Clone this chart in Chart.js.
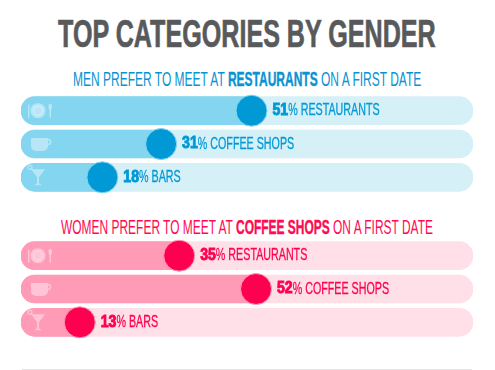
<!DOCTYPE html>
<html>
<head>
<meta charset="utf-8">
<script src="https://cdn.jsdelivr.net/npm/chart.js@4"></script>
<style>
  body { margin: 0; background: #fff; width: 495px; height: 370px; overflow: hidden; position: relative; }
  canvas { position: absolute; left: 21px; }
  .txt { position: absolute; white-space: nowrap; font-family: "Liberation Sans", sans-serif; transform-origin: 0 0; }
  #title { top: 12px; left: 58px; font-size: 39px; font-weight: bold; color: #58595b; -webkit-text-stroke: 0.7px #58595b; }
  .sub { font-size: 20px; }
  .sub b { -webkit-text-stroke: 0.4px; }
  #menHead { top: 68px; left: 73px; color: #0a93d2; }
  #womenHead { top: 216px; left: 61px; color: #ff0a54; }
  #rule { position: absolute; left: 22px; top: 369px; width: 450px; height: 1px; background: #e4e4e4; }
</style>
</head>
<body>
<div class="txt" id="title">TOP CATEGORIES BY GENDER</div>
<div class="txt sub" id="menHead">MEN PREFER TO MEET AT <b>RESTAURANTS</b> ON A FIRST DATE</div>
<canvas id="men" width="452" height="100" style="top:94px"></canvas>
<div class="txt sub" id="womenHead">WOMEN PREFER TO MEET AT <b>COFFEE SHOPS</b> ON A FIRST DATE</div>
<canvas id="women" width="452" height="100" style="top:239px"></canvas>
<div id="rule"></div>
<script>
const categories = ['RESTAURANTS', 'COFFEE SHOPS', 'BARS'];
const menValues = [51, 31, 18];
const womenValues = [35, 52, 13];
const fullTrack = [100, 100, 100];

// no condensed font installed, so squeeze the headings to their widths
function fitWidth(id, w) {
    const el = document.getElementById(id);
    el.style.transform = 'scaleX(' + (w / el.offsetWidth) + ')';
}
fitWidth('title', 378);
fitWidth('menHead', 348);
fitWidth('womenHead', 372);

function drawIcon(ctx, i, y) {
    ctx.save();
    ctx.fillStyle = 'rgba(255,255,255,0.42)';
    ctx.strokeStyle = 'rgba(255,255,255,0.42)';
    if (i == 0) {
        ctx.beginPath();
        ctx.arc(17, y, 7.5, 0, Math.PI * 2);
        ctx.fill();
        ctx.beginPath();
        ctx.arc(17, y, 4.5, 0, Math.PI * 2);
        ctx.lineWidth = 1;
        ctx.stroke();
        ctx.fillRect(7, y - 6, 1.5, 13);
        ctx.fillRect(28.5, y - 2, 1.5, 9);
        ctx.beginPath();
        ctx.ellipse(29.2, y - 4, 1.8, 3, 0, 0, Math.PI * 2);
        ctx.fill();
    } else if (i == 1) {
        ctx.beginPath();
        ctx.roundRect(10, y - 6, 17, 13, [1, 1, 5, 5]);
        ctx.fill();
        ctx.lineWidth = 1.5;
        ctx.beginPath();
        ctx.arc(27, y - 2, 2.5, -Math.PI / 2, Math.PI / 2);
        ctx.stroke();
    } else {
        ctx.beginPath();
        ctx.moveTo(10, y - 8);
        ctx.lineTo(24, y - 8);
        ctx.lineTo(18, y);
        ctx.lineTo(18, y + 6);
        ctx.lineTo(21, y + 8);
        ctx.lineTo(13, y + 8);
        ctx.lineTo(16, y + 6);
        ctx.lineTo(16, y);
        ctx.closePath();
        ctx.fill();
        ctx.lineWidth = 1.2;
        ctx.beginPath();
        ctx.arc(9, y - 10, 2, 0, Math.PI * 2);
        ctx.stroke();
    }
    ctx.restore();
}

function squeezedText(ctx, text, x, y, sx, stroke) {
    ctx.save();
    ctx.translate(x, y);
    ctx.scale(sx, 1);
    ctx.fillText(text, 0, 0);
    if (stroke) {
        ctx.lineWidth = stroke;
        ctx.strokeText(text, 0, 0);
    }
    ctx.restore();
    return ctx.measureText(text).width * sx;
}

// icons on the bars, percent labels next to the circles
const rowDecor = {
    id: 'rowDecor',
    afterDatasetsDraw(chart) {
        const ctx = chart.ctx;
        const pts = chart.getDatasetMeta(0).data;
        const values = chart.data.datasets[0].data;
        const color = chart.data.datasets[0].backgroundColor;
        pts.forEach((pt, i) => {
            drawIcon(ctx, i, pt.y);
            let x = pt.x + 21;
            ctx.fillStyle = color;
            ctx.strokeStyle = color;
            ctx.textBaseline = 'middle';
            ctx.font = 'bold 16px "Liberation Sans"';
            x += squeezedText(ctx, String(values[i]), x, pt.y, 0.88, 0.9);
            ctx.font = '17px "Liberation Sans"';
            squeezedText(ctx, '% ' + categories[i], x, pt.y, 0.63, 0.3);
        });
    }
};

function makeChart(id, values, dark, mid, light) {
    return new Chart(document.getElementById(id), {
        data: {
            labels: categories,
            datasets: [
                { type: 'line', data: values, showLine: false, order: 0, backgroundColor: dark, pointBackgroundColor: dark,
                  pointBorderColor: mid, pointBorderWidth: 1, pointRadius: 15.5, clip: false },
                { type: 'bar', data: values, order: 1, backgroundColor: mid, barThickness: 28, grouped: false,
                  borderSkipped: false, borderRadius: { topLeft: 14, bottomLeft: 14, topRight: 0, bottomRight: 0 } },
                { type: 'bar', data: fullTrack, order: 2, backgroundColor: light, barThickness: 28, grouped: false,
                  borderSkipped: false, borderRadius: 14 }
            ]
        },
        options: {
            indexAxis: 'y',
            responsive: false,
            animation: false,
            layout: { padding: 0, autoPadding: false },
            plugins: { legend: { display: false }, tooltip: { enabled: false } },
            scales: {
                x: { display: false, min: 0, max: 100 },
                y: { display: false }
            }
        },
        plugins: [rowDecor]
    });
}

makeChart('men', menValues, '#0099d6', '#84d6f0', '#d6f0f8');
makeChart('women', womenValues, '#ff0050', '#ff9ab7', '#ffe0e8');
</script>
</body>
</html>
